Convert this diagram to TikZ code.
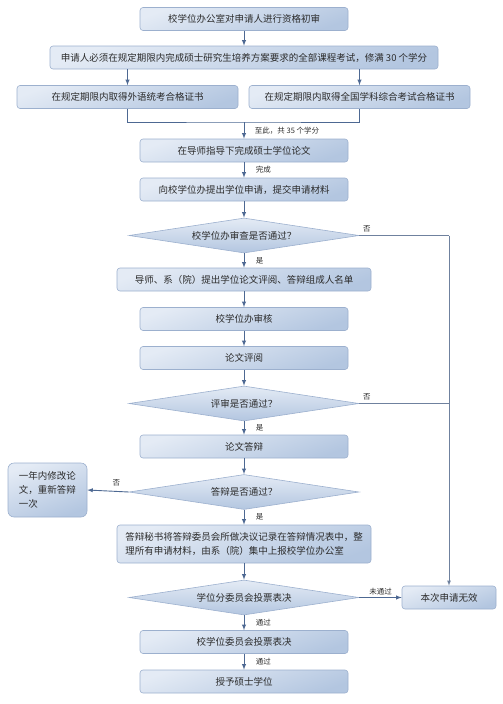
\documentclass[tikz,border=0pt]{standalone}
\usepackage{fontspec}
\setmainfont{Noto Sans CJK SC}
\usepackage{xcolor}
\usetikzlibrary{shapes.geometric}
\usetikzlibrary{arrows}
\usetikzlibrary{math}

\definecolor{boxtop}{HTML}{E4EBF5}
\definecolor{boxbot}{HTML}{B3C6E0}
\definecolor{boxline}{HTML}{9CB0CE}
\definecolor{arrcol}{HTML}{4D6892}
\definecolor{sidecol}{HTML}{6F819E}
\definecolor{txt}{HTML}{2B2B2B}

\begin{document}
\begin{tikzpicture}[x=1pt,y=-1pt,
  box/.style={draw=boxline, line width=0.6pt, rounded corners=3pt,
    top color=boxtop, bottom color=boxbot, shading angle=20,
    minimum height=23pt, inner sep=2pt, text=txt,
    font=\fontsize{9.5}{14}\selectfont},
  dec/.style={diamond, aspect=6.5, draw=boxline, line width=0.6pt,
    top color=boxtop, bottom color=boxbot,
    minimum width=230pt, minimum height=35pt, inner sep=0pt, text=txt,
    font=\fontsize{9.5}{14}\selectfont},
  arr/.style={draw=arrcol, line width=0.9pt, -latex},
  side/.style={draw=sidecol, line width=0.8pt},
  lbl/.style={font=\fontsize{7.5}{9}\selectfont, text=txt, inner sep=1.5pt}]

  \tikzmath{
    \mx   = 244; % x of the main column
    \wbox = 208; % width of the main boxes
    \wwid = 254; % width of the wide boxes
  }

  \useasboundingbox (0,0) rectangle (503,704);

  % Main column
  \node[box, minimum width=\wbox] (init) at (\mx,19) {校学位办公室对申请人进行资格初审};
  \node[box, minimum width=388] (courses) at (\mx,57.5)
    {申请人必须在规定期限内完成硕士研究生培养方案要求的全部课程考试，修满 30 个学分};
  \node[box, minimum width=221] (lang) at (127.5,97) {在规定期限内取得外语统考合格证书};
  \node[box, minimum width=221] (comp) at (359.5,97) {在规定期限内取得全国学科综合考试合格证书};
  \coordinate (merge) at (\mx,122);
  \node[box, minimum width=\wbox] (thesis) at (\mx,150.5) {在导师指导下完成硕士学位论文};
  \node[box, minimum width=\wbox] (apply) at (\mx,189.5) {向校学位办提出学位申请，提交申请材料};
  \node[dec] (check) at (\mx,235.5) {校学位办审查是否通过？};
  \node[box, minimum width=\wwid] (names) at (\mx,279.5) {导师、系（院）提出学位论文评阅、答辩组成人名单};
  \node[box, minimum width=\wbox] (audit) at (\mx,319) {校学位办审核};
  \node[box, minimum width=\wbox] (review) at (\mx,358) {论文评阅};
  \node[dec] (revok) at (\mx,403.5) {评审是否通过？};
  \node[box, minimum width=\wbox] (defense) at (\mx,446.5) {论文答辩};
  \node[dec] (defok) at (\mx,492) {答辩是否通过？};
  \node[box, minimum width=\wwid, minimum height=38pt, align=left] (report) at (\mx,544)
    {答辩秘书将答辩委员会所做决议记录在答辩情况表中，整\\理所有申请材料，由系（院）集中上报校学位办公室};
  \node[dec] (subvote) at (\mx,597.5) {学位分委员会投票表决};
  \node[box, minimum width=\wbox] (vote) at (\mx,642) {校学位委员会投票表决};
  \node[box, minimum width=\wbox] (grant) at (\mx,681.5) {授予硕士学位};

  % Side boxes
  \node[box, minimum width=79, minimum height=54, align=left, inner sep=4pt,
    rounded corners=6pt] (redo) at (47.5,490) {一年内修改论\\文，重新答辩\\一次};
  \node[box, minimum width=94] (fail) at (449,597.5) {本次申请无效};

  % Arrows down the main column
  \draw[arr] (init) -- (courses);
  \draw[arr] (lang.north |- courses.south) -- (lang.north);
  \draw[arr] (comp.north |- courses.south) -- (comp.north);
  \draw[arr, -] (lang.south) |- (merge) -| (comp.south);
  \draw[arr] (merge) -- node[lbl, right=9pt] (l35) {至此，共 35 个学分} (thesis);
  \draw[arr] (thesis) -- node[lbl, right=10pt] (ldone) {完成} (apply);
  \draw[arr] (apply) -- (check);
  \draw[arr] (check) -- node[lbl, right=10pt] (lyes1) {是} (names);
  \draw[arr] (names) -- (audit);
  \draw[arr] (audit) -- (review);
  \draw[arr] (review) -- (revok);
  \draw[arr] (revok) -- node[lbl, right=10pt] (lyes2) {是} (defense);
  \draw[arr] (defense) -- (defok);
  \draw[arr] (defok) -- node[lbl, right=10pt] (lyes3) {是} (report);
  \draw[arr] (report) -- (subvote);
  \draw[arr] (subvote) -- node[lbl, right=10pt] (lpass1) {通过} (vote);
  \draw[arr] (vote) -- node[lbl, right=10pt] (lpass2) {通过} (grant);

  % Rejections
  \draw[side] (check.east) -- node[lbl, pos=0, above right=2pt] (lno1) {否}
    (check.east -| fail.north);
  \draw[side, -latex] (check.east -| fail.north) -- (fail.north);
  \draw[side] (revok.east) -- node[lbl, pos=0, above right=2pt] (lno2) {否}
    (revok.east -| fail.north);
  \draw[arr] (defok.west) -- node[lbl, pos=0.3, above=3pt] (lno3) {否} (redo.east);
  \draw[arr] (subvote.east) -- node[lbl, above] (lfail) {未通过} (fail.west);

\end{tikzpicture}
\end{document}
